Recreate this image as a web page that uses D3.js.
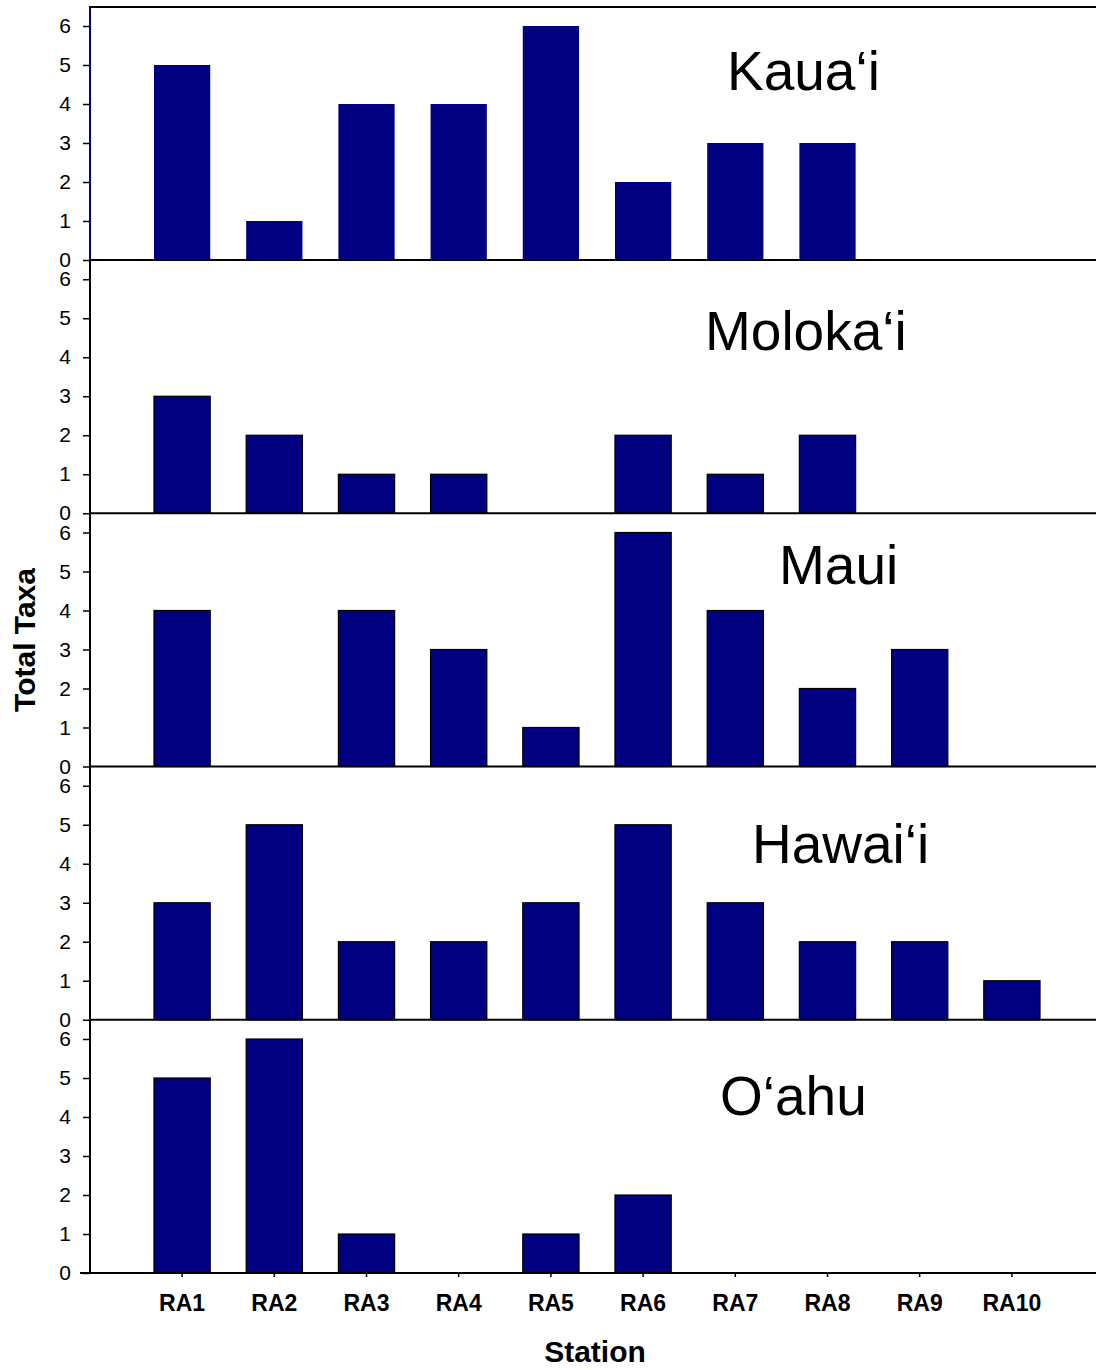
<!DOCTYPE html>
<html>
<head>
<meta charset="utf-8">
<script src="https://cdn.jsdelivr.net/npm/d3@7"></script>
<style>
  html, body { margin: 0; padding: 0; background: #fff; }
  svg { display: block; font-family: Arial, "Liberation Sans", sans-serif; }
</style>
</head>
<body>
<svg id="chart" width="1096" height="1370"></svg>
<script>
const stations = ["RA1","RA2","RA3","RA4","RA5","RA6","RA7","RA8","RA9","RA10"];
const islands = ["Kaua‘i","Moloka‘i","Maui","Hawai‘i","O‘ahu"];
const kauai   = [5,1,4,4,6,2,3,3,0,0];
const molokai = [3,2,1,1,0,2,1,2,0,0];
const maui    = [4,0,4,3,1,6,4,2,3,0];
const hawaii  = [3,5,2,2,3,5,3,2,2,1];
const oahu    = [5,6,1,0,1,2,0,0,0,0];
const yTicks  = [0,1,2,3,4,5,6];
const seriesList = [kauai, molokai, maui, hawaii, oahu];

const labelPos = [
  {x: 727, y: 90},
  {x: 705, y: 350},
  {x: 779, y: 584},
  {x: 752, y: 863},
  {x: 720, y: 1115}
];

const navy = "#000080";
const svg = d3.select("#chart");
const left = 90, right = 1096;

const x = d3.scaleBand().domain(stations)
  .range([left + 46, left + 46 + 922]).paddingInner(0.39).paddingOuter(0.195);

const zeroY = d3.scaleLinear().domain([0, islands.length - 1]).range([260, 1273]);

// top frame line
svg.append("line").attr("x1", left - 1).attr("x2", right).attr("y1", 7).attr("y2", 7)
  .attr("stroke", "#000").attr("stroke-width", 2);

seriesList.forEach((vals, p) => {
  const z = zeroY(p);
  const y = d3.scaleLinear().domain([0, 6]).range([z, z - 234]);
  const top = z - 253;
  const g = svg.append("g");

  // bars
  g.selectAll("rect").data(stations.map((s, i) => ({s, v: vals[i]})).filter(d => d.v > 0))
    .join("rect")
    .attr("x", d => x(d.s))
    .attr("width", x.bandwidth())
    .attr("y", d => y(d.v))
    .attr("height", d => y(0) - y(d.v))
    .attr("fill", navy)
    .attr("stroke", p === 0 ? "none" : "#000")
    .attr("stroke-width", 1.2);

  // y axis
  const yAxis = d3.axisLeft(y).tickValues(yTicks).tickSize(7).tickPadding(12).tickFormat(d3.format("d"));
  const ag = g.append("g").attr("transform", `translate(${left},0)`).call(yAxis);
  ag.attr("font-size", 21).attr("font-family", "Arial, 'Liberation Sans', sans-serif");
  ag.select(".domain").remove();
  ag.selectAll(".tick line").attr("stroke", "#000").attr("stroke-width", 1.5);
  ag.selectAll(".tick text").attr("fill", "#000");
  g.append("line").attr("x1", left).attr("x2", left).attr("y1", top).attr("y2", z)
    .attr("stroke", p === 0 ? navy : "#000").attr("stroke-width", 2);

  // zero line
  g.append("line").attr("x1", p === islands.length - 1 ? 80 : left).attr("x2", right)
    .attr("y1", z).attr("y2", z).attr("stroke", "#000").attr("stroke-width", 2);

  // island label
  g.append("text").attr("x", labelPos[p].x).attr("y", labelPos[p].y)
    .attr("font-size", 55).attr("fill", "#000").text(islands[p]);

  if (p === islands.length - 1) {
    const xAxis = d3.axisBottom(x).tickSize(4).tickPadding(18);
    const xg = g.append("g").attr("transform", `translate(0,${z})`).call(xAxis);
    xg.attr("font-size", 23).attr("font-weight", "bold").attr("font-family", "Arial, 'Liberation Sans', sans-serif");
    xg.select(".domain").remove();
    xg.selectAll(".tick line").attr("stroke", "#000").attr("stroke-width", 1.5);
    xg.selectAll(".tick text").attr("fill", "#000");
  }
});

svg.append("text").attr("x", 595).attr("y", 1362).attr("text-anchor", "middle")
  .attr("font-size", 30).attr("font-weight", "bold").text("Station");
svg.append("text").attr("transform", "translate(35,640) rotate(-90)").attr("text-anchor", "middle")
  .attr("font-size", 30).attr("font-weight", "bold").text("Total Taxa");
</script>
</body>
</html>
